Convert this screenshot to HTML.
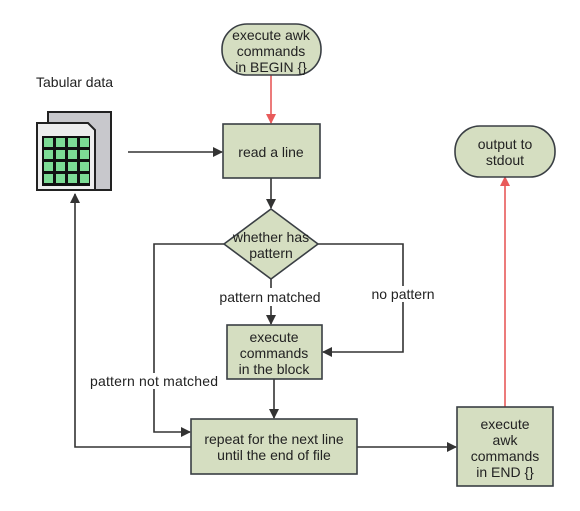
<!DOCTYPE html>
<html><head><meta charset="utf-8"><style>
html,body{margin:0;padding:0;background:#fff;width:580px;height:511px;overflow:hidden}
text{font-family:"Liberation Sans",sans-serif;font-size:14px;fill:#222}
</style></head><body>
<svg width="580" height="511" viewBox="0 0 580 511" xmlns="http://www.w3.org/2000/svg">
<defs>
<marker id="a" markerWidth="10" markerHeight="10" refX="9" refY="5" orient="auto" markerUnits="userSpaceOnUse"><path d="M0,0 L10,5 L0,10 Z" fill="#333"/></marker>
<marker id="r" markerWidth="10" markerHeight="10" refX="9" refY="5" orient="auto" markerUnits="userSpaceOnUse"><path d="M0,0 L10,5 L0,10 Z" fill="#e85a5a"/></marker>
</defs>
<g fill="none" stroke="#333" stroke-width="1.6">
<line x1="128" y1="152" x2="222" y2="152" marker-end="url(#a)"/>
<line x1="271" y1="178" x2="271" y2="208" marker-end="url(#a)"/>
<line x1="271" y1="279" x2="271" y2="324" marker-end="url(#a)"/>
<polyline points="224,244 154,244 154,432 190,432" marker-end="url(#a)"/>
<polyline points="318,244 403,244 403,352 323,352" marker-end="url(#a)"/>
<line x1="274" y1="379" x2="274" y2="418" marker-end="url(#a)"/>
<polyline points="191,447 75,447 75,194" marker-end="url(#a)"/>
<line x1="357" y1="447" x2="456" y2="447" marker-end="url(#a)"/>
</g>
<g fill="none" stroke="#e85a5a" stroke-width="1.6">
<line x1="271" y1="75" x2="271" y2="123" marker-end="url(#r)"/>
<line x1="505" y1="407" x2="505" y2="177" marker-end="url(#r)"/>
</g>
<g fill="#d5dec1" stroke="#3a3f44" stroke-width="1.6">
<rect x="222" y="24" width="99" height="51" rx="25"/>
<rect x="223" y="124" width="97" height="54"/>
<polygon points="271,209 318,244 271,279 224,244"/>
<rect x="227" y="325" width="95" height="54"/>
<rect x="191" y="419" width="166" height="55"/>
<rect x="457" y="407" width="96" height="79"/>
<rect x="455" y="126" width="100" height="51" rx="25"/>
</g>
<!-- icon -->
<rect x="48" y="112" width="63" height="78" fill="#c8c8cc" stroke="#222" stroke-width="2"/>
<path d="M37,123 H88 L95,130 V190 H37 Z" fill="#eee" stroke="#222" stroke-width="2"/>
<rect x="42" y="136" width="48" height="50" fill="#111"/>
<g fill="#7ddc95">
<rect x="44" y="138" width="9" height="9"/><rect x="56" y="138" width="9" height="9"/><rect x="68" y="138" width="9" height="9"/><rect x="80" y="138" width="9" height="9"/>
<rect x="44" y="150" width="9" height="9"/><rect x="56" y="150" width="9" height="9"/><rect x="68" y="150" width="9" height="9"/><rect x="80" y="150" width="9" height="9"/>
<rect x="44" y="162" width="9" height="9"/><rect x="56" y="162" width="9" height="9"/><rect x="68" y="162" width="9" height="9"/><rect x="80" y="162" width="9" height="9"/>
<rect x="44" y="174" width="9" height="9"/><rect x="56" y="174" width="9" height="9"/><rect x="68" y="174" width="9" height="9"/><rect x="80" y="174" width="9" height="9"/>
</g>
<rect x="218" y="288" width="106" height="18" fill="#fff"/>
<g text-anchor="middle">
<text x="271" y="40">execute awk</text>
<text x="271" y="56">commands</text>
<text x="271" y="72">in BEGIN {}</text>
<text x="271" y="157">read a line</text>
<text x="271" y="242">whether has</text>
<text x="271" y="258">pattern</text>
<text x="274" y="342">execute</text>
<text x="274" y="358">commands</text>
<text x="274" y="374">in the block</text>
<text x="274" y="444">repeat for the next line</text>
<text x="274" y="460">until the end of file</text>
<text x="505" y="429">execute</text>
<text x="505" y="445">awk</text>
<text x="505" y="461">commands</text>
<text x="505" y="477">in END {}</text>
<text x="505" y="149">output to</text>
<text x="505" y="165">stdout</text>
<text x="270" y="302">pattern matched</text>
<rect x="368" y="286" width="70" height="16" fill="#fff"/>
<text x="403" y="299">no pattern</text>
</g>
<text x="36" y="87">Tabular data</text>
<rect x="150" y="373" width="8" height="16" fill="#fff"/>
<text x="90" y="386" textLength="128">pattern not matched</text>
</svg>
</body></html>
